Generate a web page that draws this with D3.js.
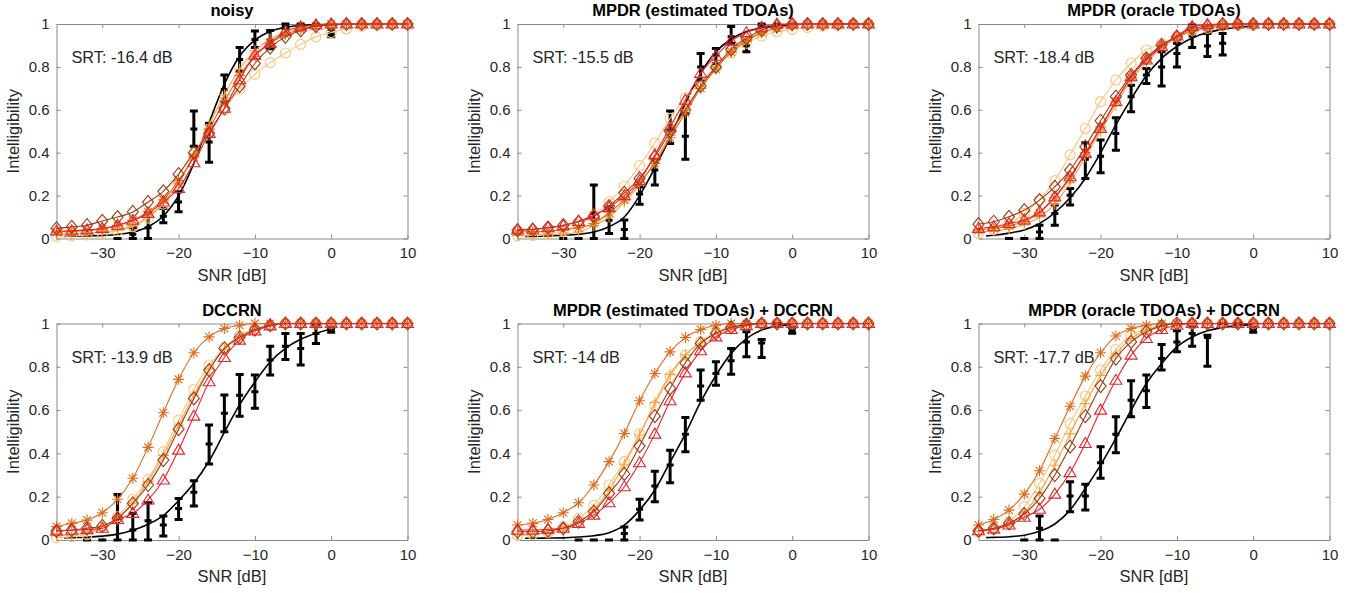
<!DOCTYPE html>
<html>
<head>
<meta charset="utf-8">
<script src="https://cdn.jsdelivr.net/npm/d3@7"></script>
<style>
  body { margin: 0; background: #fff; }
  svg { display: block; font-family: "Liberation Sans", Arial, sans-serif; }
</style>
</head>
<body>
<div id="chart"></div>
<script>
// SNR grid of the model predictions (dB)
const snr = [-36, -34, -32, -30, -28, -26, -24, -22, -20, -18, -16, -14, -12, -10, -8, -6, -4, -2, 0, 2, 4, 6, 8, 10];
// SNR grid used to draw the fitted psychometric curve
const fitSnr = [-35, -34, -32, -30, -28, -26, -24, -22, -20, -18, -16, -14, -12, -10, -8, -6, -4, -2, 0];

const titles = ['noisy', 'MPDR (estimated TDOAs)', 'MPDR (oracle TDOAs)',
  'DCCRN', 'MPDR (estimated TDOAs) + DCCRN', 'MPDR (oracle TDOAs) + DCCRN'];
const srt = ['-16.4', '-15.5', '-18.4', '-13.9', '-14', '-17.7'];
const xTicks = [-30, -20, -10, 0, 10];
const yTicks = [0, 0.2, 0.4, 0.6, 0.8, 1];

// predicted intelligibility, one row per panel
const circleVals = [
  [0.01,0.012,0.016,0.022,0.035,0.055,0.095,0.16,0.26,0.39,0.5,0.6,0.695,0.765,0.82,0.865,0.905,0.94,0.96,0.978,0.99,0.995,1,1],
  [0.012,0.014,0.02,0.035,0.065,0.11,0.17,0.245,0.34,0.445,0.56,0.655,0.73,0.8,0.865,0.91,0.944,0.964,0.975,0.984,0.99,0.995,1,1],
  [0.023,0.042,0.067,0.117,0.18,0.27,0.39,0.513,0.638,0.739,0.817,0.879,0.91,0.94,0.97,0.98,0.99,0.995,0.995,1,1,1,1,1],
  [0.011,0.015,0.025,0.06,0.108,0.188,0.28,0.408,0.554,0.695,0.808,0.889,0.946,0.977,0.99,1,1,1,1,1,1,1,1,1],
  [0.02,0.025,0.035,0.06,0.1,0.16,0.254,0.362,0.49,0.623,0.754,0.854,0.915,0.96,0.985,0.995,1,1,1,1,1,1,1,1],
  [0.038,0.054,0.085,0.154,0.262,0.392,0.538,0.665,0.785,0.88,0.946,0.977,0.99,1,1,1,1,1,1,1,1,1,1,1]
];
const plusVals = [
  [0.02,0.022,0.025,0.03,0.04,0.06,0.1,0.165,0.26,0.385,0.53,0.67,0.79,0.875,0.93,0.96,0.98,0.99,0.995,1,1,1,1,1],
  [0.015,0.016,0.018,0.02,0.03,0.06,0.1,0.17,0.25,0.36,0.48,0.6,0.71,0.8,0.87,0.925,0.96,0.98,0.99,1,1,1,1,1],
  [0.03,0.035,0.045,0.065,0.1,0.16,0.26,0.38,0.5,0.62,0.74,0.82,0.89,0.935,0.965,0.98,0.99,1,1,1,1,1,1,1],
  [0.02,0.025,0.035,0.06,0.1,0.17,0.27,0.39,0.53,0.67,0.79,0.88,0.94,0.97,0.99,1,1,1,1,1,1,1,1,1],
  [0.025,0.028,0.033,0.045,0.08,0.14,0.23,0.35,0.485,0.635,0.765,0.855,0.91,0.955,0.98,0.99,1,1,1,1,1,1,1,1],
  [0.04,0.05,0.075,0.125,0.22,0.345,0.49,0.63,0.76,0.86,0.93,0.97,0.99,1,1,1,1,1,1,1,1,1,1,1]
];
const starVals = [
  [0.03,0.033,0.038,0.045,0.06,0.085,0.125,0.18,0.27,0.38,0.51,0.64,0.76,0.85,0.91,0.95,0.975,0.99,1,1,1,1,1,1],
  [0.03,0.032,0.035,0.04,0.05,0.07,0.12,0.18,0.26,0.35,0.47,0.585,0.7,0.79,0.87,0.92,0.96,0.98,0.995,1,1,1,1,1],
  [0.04,0.048,0.06,0.08,0.12,0.19,0.28,0.4,0.52,0.64,0.75,0.84,0.9,0.94,0.97,0.985,0.995,1,1,1,1,1,1,1],
  [0.062,0.077,0.092,0.126,0.188,0.285,0.428,0.588,0.742,0.865,0.938,0.977,0.992,1,1,1,1,1,1,1,1,1,1,1],
  [0.069,0.077,0.095,0.126,0.172,0.254,0.362,0.492,0.643,0.769,0.869,0.935,0.972,0.992,1,1,1,1,1,1,1,1,1,1],
  [0.069,0.095,0.138,0.212,0.32,0.469,0.618,0.757,0.865,0.942,0.977,0.992,1,1,1,1,1,1,1,1,1,1,1,1]
];
const diamondVals = [
  [0.047,0.054,0.062,0.082,0.1,0.124,0.17,0.22,0.3,0.4,0.49,0.607,0.71,0.816,0.89,0.94,0.97,0.99,0.995,1,1,1,1,1],
  [0.039,0.042,0.051,0.062,0.078,0.104,0.151,0.213,0.28,0.381,0.498,0.599,0.711,0.8,0.882,0.933,0.972,0.99,1,1,1,1,1,1],
  [0.067,0.078,0.101,0.132,0.179,0.241,0.319,0.428,0.549,0.661,0.762,0.84,0.902,0.941,0.98,0.99,1,1,1,1,1,1,1,1],
  [0.042,0.046,0.054,0.065,0.1,0.169,0.254,0.369,0.512,0.654,0.785,0.885,0.935,0.972,0.992,1,1,1,1,1,1,1,1,1],
  [0.038,0.038,0.043,0.054,0.085,0.131,0.215,0.305,0.434,0.572,0.7,0.818,0.908,0.954,0.982,0.995,1,1,1,1,1,1,1,1],
  [0.043,0.054,0.077,0.12,0.192,0.3,0.431,0.572,0.711,0.838,0.915,0.962,0.988,1,1,1,1,1,1,1,1,1,1,1]
];
const triangleVals = [
  [0.035,0.036,0.04,0.047,0.062,0.085,0.117,0.17,0.233,0.353,0.49,0.607,0.74,0.855,0.91,0.965,0.987,0.995,1,1,1,1,1,1],
  [0.04,0.043,0.05,0.06,0.08,0.11,0.145,0.2,0.27,0.39,0.52,0.645,0.77,0.85,0.92,0.96,0.985,1,1,1,1,1,1,1],
  [0.047,0.055,0.07,0.086,0.124,0.194,0.288,0.397,0.513,0.638,0.754,0.832,0.894,0.944,0.988,0.997,1,1,1,1,1,1,1,1],
  [0.042,0.045,0.048,0.054,0.095,0.123,0.185,0.277,0.415,0.572,0.731,0.843,0.923,0.966,0.989,1,1,1,1,1,1,1,1,1],
  [0.046,0.046,0.05,0.054,0.077,0.115,0.172,0.246,0.357,0.489,0.643,0.772,0.874,0.938,0.972,0.99,1,1,1,1,1,1,1,1],
  [0.043,0.05,0.069,0.105,0.142,0.212,0.311,0.446,0.6,0.738,0.854,0.931,0.972,0.992,1,1,1,1,1,1,1,1,1,1]
];

// listening test results: SNR, mean and error bar limits per panel
const measSnr = [
  [-28,-26,-24,-22,-20,-18,-16,-14,-12,-10,-8,-6,-4,-2,0],
  [-30,-28,-26,-24,-22,-20,-18,-16,-14,-12,-10,-8,-6,-4,-2,0],
  [-32,-30,-28,-26,-24,-22,-20,-18,-16,-14,-12,-10,-8,-6,-4,-2,0],
  [-32,-30,-28,-26,-24,-22,-20,-18,-16,-14,-12,-10,-8,-6,-4,-2,0],
  [-28,-26,-24,-22,-20,-18,-16,-14,-12,-10,-8,-6,-4,-2,0],
  [-30,-28,-26,-24,-22,-20,-18,-16,-14,-12,-10,-8,-6,-4,-2,0]
];
const measMean = [
  [0,0.02,0.05,0.104,0.17,0.51,0.45,0.695,0.835,0.928,0.925,0.99,1,1,0.955],
  [0,0,0.117,0.085,0.042,0.207,0.319,0.505,0.477,0.8,0.855,0.94,0.897,0.995,1,1],
  [0,0,0.03,0.117,0.202,0.37,0.384,0.49,0.661,0.762,0.8,0.863,0.944,0.897,0.91,1,1],
  [0,0,0.1,0.046,0.089,0.069,0.145,0.22,0.443,0.585,0.669,0.685,0.831,0.895,0.885,0.954,0.97],
  [0,0,0,0.03,0.142,0.25,0.346,0.489,0.711,0.769,0.828,0.915,0.91,1,0.965],
  [0,0.054,0,0.203,0.203,0.357,0.489,0.646,0.689,0.838,0.915,0.954,0.935,1,1,0.97]
];
const measLo = [
  [0,0,0,0.073,0.125,0.43,0.355,0.638,0.78,0.89,0.885,0.98,1,1,0.94],
  [0,0,0,0.023,0,0.16,0.249,0.443,0.369,0.739,0.816,0.91,0.871,0.99,1,1],
  [0,0,0,0.062,0.156,0.28,0.306,0.412,0.591,0.723,0.711,0.8,0.89,0.848,0.855,1,1],
  [0,0,0,0,0,0.018,0.095,0.157,0.351,0.5,0.572,0.608,0.762,0.834,0.808,0.908,0.96],
  [0,0,0,0,0.092,0.177,0.265,0.408,0.646,0.715,0.766,0.846,0.843,1,0.955],
  [0,0,0,0.131,0.138,0.285,0.403,0.569,0.612,0.785,0.869,0.895,0.803,1,1,0.96]
];
const measHi = [
  [0,0.05,0.12,0.14,0.218,0.594,0.537,0.762,0.89,0.967,0.97,1,1,1,0.975],
  [0,0,0.25,0.148,0.086,0.24,0.37,0.594,0.583,0.863,0.886,0.988,0.925,1,1,1],
  [0,0,0.062,0.156,0.233,0.446,0.459,0.563,0.715,0.793,0.871,0.91,0.995,0.956,0.956,1,1],
  [0,0,0.21,0.123,0.172,0.111,0.192,0.274,0.531,0.67,0.765,0.762,0.895,0.954,0.954,0.997,0.98],
  [0,0,0,0.06,0.188,0.318,0.415,0.566,0.785,0.823,0.885,0.962,0.926,1,0.98],
  [0,0.111,0,0.269,0.258,0.431,0.569,0.735,0.762,0.903,0.966,0.985,0.946,1,1,0.98]
];
// fitted psychometric curve read at fitSnr
const fitVals = [
  [0.01,0.011,0.012,0.014,0.019,0.03,0.055,0.105,0.2,0.35,0.54,0.72,0.85,0.925,0.965,0.985,0.993,0.997,0.999],
  [0.01,0.01,0.012,0.015,0.02,0.03,0.055,0.1,0.2,0.33,0.47,0.63,0.77,0.87,0.93,0.965,0.982,0.992,0.996],
  [0.012,0.015,0.025,0.04,0.07,0.12,0.19,0.28,0.4,0.53,0.65,0.76,0.84,0.895,0.935,0.96,0.975,0.985,0.99],
  [0.01,0.011,0.013,0.018,0.027,0.045,0.073,0.113,0.182,0.262,0.365,0.497,0.625,0.73,0.822,0.885,0.927,0.955,0.975],
  [0.008,0.008,0.009,0.01,0.014,0.02,0.034,0.069,0.138,0.231,0.36,0.49,0.638,0.76,0.862,0.93,0.97,0.988,0.995],
  [0.011,0.012,0.015,0.022,0.04,0.074,0.138,0.238,0.346,0.469,0.6,0.723,0.815,0.892,0.938,0.966,0.982,0.99,0.995]
];

const series = [
  { vals: circleVals, color: '#fbc47a', shape: 'circle' },
  { vals: plusVals, color: '#f9a03f', shape: 'plus' },
  { vals: starVals, color: '#e06c1a', shape: 'star' },
  { vals: diamondVals, color: '#993d12', shape: 'diamond' },
  { vals: triangleVals, color: '#e8232a', shape: 'triangle' }
];

const markerPath = {
  circle: 'M5,0A5,5 0 1,1 -5,0A5,5 0 1,1 5,0Z',
  plus: 'M-5.5,0H5.5M0,-5.5V5.5',
  star: 'M-5.5,0H5.5M0,-5.5V5.5M-3.9,-3.9L3.9,3.9M-3.9,3.9L3.9,-3.9',
  diamond: 'M0,-6.5L5.5,0L0,6.5L-5.5,0Z',
  triangle: 'M0,-6L6,4L-6,4Z'
};

const width = 1361, height = 593;
const lefts = [56.5, 517.5, 978.5];
const plotW = 351;
const rows = [[24, 238.5], [323.5, 540]];
const axisColor = '#8a8a8a';
const textColor = '#262626';

const svg = d3.select('#chart').append('svg')
  .attr('width', width)
  .attr('height', height);

titles.forEach((title, p) => {
  const x0 = lefts[p % 3];
  const [top, bottom] = rows[Math.floor(p / 3)];

  const x = d3.scaleLinear().domain([-36, 10]).range([x0, x0 + plotW]);
  const y = d3.scaleLinear().domain([0, 1]).range([bottom, top]);

  const g = svg.append('g');

  // axes: labelled bottom/left, tick-only top/right
  const styleAxis = sel => {
    sel.selectAll('.domain').attr('stroke', axisColor);
    sel.selectAll('.tick line').attr('stroke', axisColor);
    sel.selectAll('.tick text').attr('fill', textColor).attr('font-size', '15px')
      .attr('font-family', '"Liberation Sans", Arial, sans-serif');
  };
  g.append('g').attr('transform', `translate(0,${bottom})`)
    .call(d3.axisBottom(x).tickValues(xTicks).tickSizeInner(-4).tickSizeOuter(0).tickPadding(9))
    .call(styleAxis);
  g.append('g').attr('transform', `translate(0,${top})`)
    .call(d3.axisTop(x).tickValues(xTicks).tickSizeInner(-4).tickSizeOuter(0).tickFormat(''))
    .call(styleAxis);
  g.append('g').attr('transform', `translate(${x0},0)`)
    .call(d3.axisLeft(y).tickValues(yTicks).tickSizeInner(-4).tickSizeOuter(0).tickPadding(7)
      .tickFormat(d => d3.format('~g')(d)))
    .call(styleAxis);
  g.append('g').attr('transform', `translate(${x0 + plotW},0)`)
    .call(d3.axisRight(y).tickValues(yTicks).tickSizeInner(-4).tickSizeOuter(0).tickFormat(''))
    .call(styleAxis);

  // titles and labels
  g.append('text')
    .attr('x', x0 + plotW / 2).attr('y', top - 8)
    .attr('text-anchor', 'middle').attr('font-weight', 'bold')
    .attr('font-size', '16.5px').attr('fill', '#000')
    .text(title);
  g.append('text')
    .attr('x', x0 + plotW / 2).attr('y', bottom + 42)
    .attr('text-anchor', 'middle').attr('font-size', '16.5px').attr('fill', textColor)
    .text('SNR [dB]');
  g.append('text')
    .attr('transform', `translate(${x0 - 38},${(top + bottom) / 2}) rotate(-90)`)
    .attr('text-anchor', 'middle').attr('font-size', '16.5px').attr('fill', textColor)
    .text('Intelligibility');
  g.append('text')
    .attr('x', x0 + 15).attr('y', top + 39)
    .attr('font-size', '16.3px').attr('fill', textColor)
    .text('SRT: ' + srt[p] + ' dB');

  // measured data with error bars
  const meas = measSnr[p].map((s, i) => ({ s, m: measMean[p][i], lo: measLo[p][i], hi: measHi[p][i] }));
  const eb = g.append('g').attr('stroke', '#000').attr('stroke-width', 3);
  eb.selectAll('.bar').data(meas).enter().append('path')
    .attr('d', d => {
      const cx = x(d.s);
      return `M${cx},${y(d.lo)}V${y(d.hi)}` +
        `M${cx - 4},${y(d.lo)}H${cx + 4}` +
        `M${cx - 4},${y(d.hi)}H${cx + 4}` +
        `M${cx - 3.5},${y(d.m)}H${cx + 3.5}`;
    });

  // fitted curve
  const fitLine = d3.line().x((d, i) => x(fitSnr[i])).y(d => y(d)).curve(d3.curveMonotoneX);
  g.append('path').datum(fitVals[p])
    .attr('d', fitLine)
    .attr('fill', 'none').attr('stroke', '#000').attr('stroke-width', 1.6);

  // model predictions
  const line = d3.line().x((d, i) => x(snr[i])).y(d => y(d)).curve(d3.curveMonotoneX);
  series.forEach(sr => {
    const sg = g.append('g');
    sg.append('path').datum(sr.vals[p])
      .attr('d', line)
      .attr('fill', 'none').attr('stroke', sr.color).attr('stroke-width', 1.1);
    sg.selectAll('.mk').data(sr.vals[p]).enter().append('path')
      .attr('transform', (d, i) => `translate(${x(snr[i])},${y(d)})`)
      .attr('d', markerPath[sr.shape])
      .attr('fill', 'none').attr('stroke', sr.color).attr('stroke-width', 1.1);
  });
});
</script>
</body>
</html>
